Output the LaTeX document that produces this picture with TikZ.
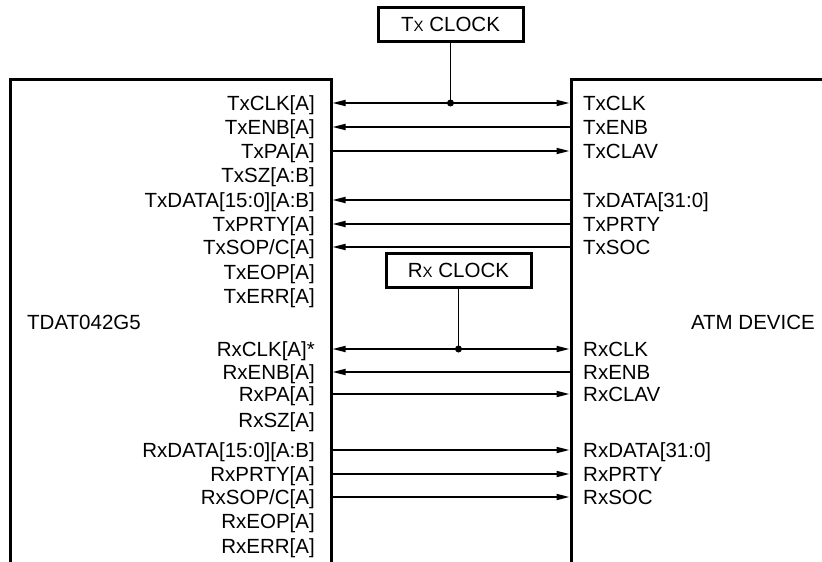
\documentclass[tikz,border=0pt]{standalone}
\usepackage{fontspec}
\setmainfont{Liberation Sans}
\usetikzlibrary{arrows.meta}
\tikzset{
  lab/.style={inner sep=0pt, font=\fontsize{20.5}{24}\selectfont},
  llab/.style={lab, anchor=base east},
  rlab/.style={lab, anchor=base west},
  boxline/.style={line width=3pt, line join=miter},
  sig/.style={line width=1.7pt},
  tip/.style={-{Triangle[length=13pt,width=6pt]}},
  clk/.style={draw, line width=3pt, minimum width=145pt, minimum height=34pt, inner sep=0pt, font=\fontsize{20.5}{24}\selectfont},
  dot/.style={circle, fill, inner sep=0pt, minimum size=7pt}
}
\begin{document}
\begin{tikzpicture}[x=1pt,y=-1pt]
\useasboundingbox (0,0) rectangle (822,562);
% boxes
\draw[boxline] (10,564) -- (10,79) -- (331,79) -- (331,564);
\draw[boxline] (824,79) -- (571,79) -- (571,564);
% left labels
\foreach \y/\t [count=\i] in {103/{TxCLK[A]},127/{TxENB[A]},151/{TxPA[A]},175/{TxSZ[A:B]},200/{TxDATA[15:0][A:B]},224/{TxPRTY[A]},247/{TxSOP/C[A]},272/{TxEOP[A]},296/{TxERR[A]},349/{RxCLK[A]*},372/{RxENB[A]},394/{RxPA[A]},420/{RxSZ[A]},450/{RxDATA[15:0][A:B]},474/{RxPRTY[A]},497/{RxSOP/C[A]},521/{RxEOP[A]},546/{RxERR[A]}}
  \node[llab] (l\i) at (315,\y+7.3) {\t};
% right labels
\foreach \y/\t [count=\i] in {103/{TxCLK},127/{TxENB},151/{TxCLAV},200/{TxDATA[31:0]},224/{TxPRTY},247/{TxSOC},349/{RxCLK},372/{RxENB},394/{RxCLAV},450/{RxDATA[31:0]},474/{RxPRTY},497/{RxSOC}}
  \node[rlab] (r\i) at (583,\y+7.3) {\t};
\node[lab, anchor=base west] (dev1) at (27,322+7.3) {TDAT042G5};
\node[lab, anchor=base east] (dev2) at (815,322+7.3) {ATM DEVICE};
% connector end points
\foreach \y [count=\i] in {103,127,151,200,224,247,349,372,394,450,474,497}{
  \coordinate (L\i) at (332.5,\y);
  \coordinate (R\i) at (569.5,\y);
}
% clocks
\node[clk] (txc) at (450.5,24) {T{\fontsize{15}{18}\selectfont X} CLOCK};
\node[clk] (rxc) at (458.5,270.5) {R{\fontsize{15}{18}\selectfont X} CLOCK};
\node[dot] (jt) at (450.5,103) {};
\node[dot] (jr) at (458.5,349) {};
\draw[sig] (txc.south) -- (jt.center);
\draw[sig] (rxc.south) -- (jr.center);
\draw[sig,tip] (jt.center) -- (L1);
\draw[sig,tip] (jt.center) -- (R1);
\draw[sig,tip] (jr.center) -- (L7);
\draw[sig,tip] (jr.center) -- (R7);
% Tx signals
\draw[sig,tip] (R2) -- (L2);
\draw[sig,tip] (L3) -- (R3);
\draw[sig,tip] (R4) -- (L4);
\draw[sig,tip] (R5) -- (L5);
\draw[sig,tip] (R6) -- (L6);
% Rx signals
\draw[sig,tip] (R8) -- (L8);
\draw[sig,tip] (L9) -- (R9);
\draw[sig,tip] (L10) -- (R10);
\draw[sig,tip] (L11) -- (R11);
\draw[sig,tip] (L12) -- (R12);
\end{tikzpicture}
\end{document}
